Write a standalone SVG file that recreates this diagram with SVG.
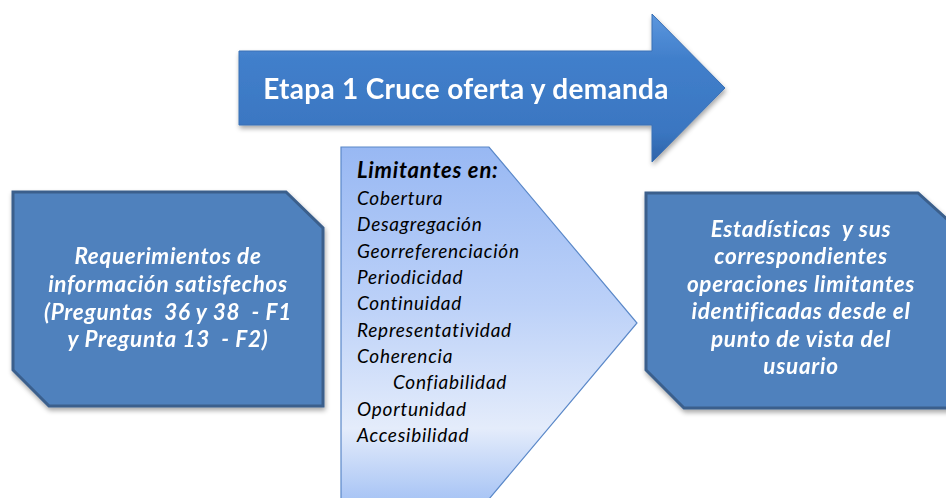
<svg xmlns="http://www.w3.org/2000/svg" width="946" height="498" viewBox="0 0 946 498">
<defs>
<linearGradient id="gArrow" x1="0" y1="0" x2="0" y2="1">
<stop offset="0" stop-color="#5c97de"/>
<stop offset="0.3" stop-color="#417fcb"/>
<stop offset="0.8" stop-color="#3a76c1"/>
<stop offset="1" stop-color="#2d63a8"/>
</linearGradient>
<linearGradient id="gChev" x1="0" y1="147" x2="0" y2="499" gradientUnits="userSpaceOnUse">
<stop offset="0" stop-color="#98b8f3"/>
<stop offset="0.45" stop-color="#bcd1f8"/>
<stop offset="0.8" stop-color="#e4ecfb"/>
<stop offset="1" stop-color="#a9c5f5"/>
</linearGradient>
<filter id="sh" x="-10%" y="-10%" width="125%" height="130%">
<feGaussianBlur in="SourceAlpha" stdDeviation="2.5"/>
<feOffset dx="1" dy="3" result="b"/>
<feComponentTransfer><feFuncA type="linear" slope="0.35"/></feComponentTransfer>
<feMerge><feMergeNode/><feMergeNode in="SourceGraphic"/></feMerge>
</filter>
</defs>
<style>
.box{fill:#4f81bd;stroke:#3a5f8c;stroke-width:3;}
.wt{font-family:Lato,"Open Sans","Liberation Sans",sans-serif;font-weight:bold;font-style:italic;fill:#ffffff;font-size:22.5px;letter-spacing:0.7px;text-anchor:middle;white-space:pre;}
.lt{font-family:Lato,"Open Sans","Liberation Sans",sans-serif;font-style:italic;fill:#000000;font-size:19px;letter-spacing:0.75px;}
</style>
<rect width="946" height="498" fill="#ffffff"/>
<g id="etapa-arrow" filter="url(#sh)">
<polygon points="239,51 652,51 652,14 725,88 652,162 652,125 239,125" style="fill:url(#gArrow)" stroke="#3a70b5" stroke-width="1"/>
<text x="466" y="99" font-family="Lato,'Open Sans','Liberation Sans',sans-serif" font-weight="bold" font-size="28" letter-spacing="0.3" fill="#ffffff" text-anchor="middle">Etapa 1 Cruce oferta y demanda</text>
</g>
<g id="requerimientos" filter="url(#sh)">
<polygon class="box" points="13,192 286,192 323,228 323,406 49,406 13,370"/>
<text class="wt" x="168" y="264">Requerimientos de</text>
<text class="wt" x="168" y="292">información satisfechos</text>
<text class="wt" x="168" y="320" xml:space="preserve">(Preguntas  36 y 38  - F1</text>
<text class="wt" x="168" y="347" xml:space="preserve">y Pregunta 13  - F2)</text>
</g>
<g id="limitantes">
<polygon points="341,147 489,147 637,323 489,499 341,499" fill="url(#gChev)" stroke="#5a88c8" stroke-width="1.2"/>
<text x="357" y="178" font-family="Lato,'Open Sans','Liberation Sans',sans-serif" font-weight="bold" font-style="italic" font-size="22" letter-spacing="0.8" fill="#000000">Limitantes en:</text>
<text class="lt" x="357" y="205">Cobertura</text>
<text class="lt" x="357" y="231">Desagregación</text>
<text class="lt" x="357" y="258">Georreferenciación</text>
<text class="lt" x="357" y="284">Periodicidad</text>
<text class="lt" x="357" y="310">Continuidad</text>
<text class="lt" x="357" y="337">Representatividad</text>
<text class="lt" x="357" y="363">Coherencia</text>
<text class="lt" x="393" y="389">Confiabilidad</text>
<text class="lt" x="357" y="416">Oportunidad</text>
<text class="lt" x="357" y="442">Accesibilidad</text>
</g>
<g id="estadisticas" filter="url(#sh)">
<polygon class="box" points="646,193 918,193 950,222 950,408 684,408 646,370"/>
<text class="wt" x="801" y="237" xml:space="preserve">Estadísticas  y sus</text>
<text class="wt" x="801" y="264">correspondientes</text>
<text class="wt" x="801" y="292">operaciones limitantes</text>
<text class="wt" x="801" y="319">identificadas desde el</text>
<text class="wt" x="801" y="347">punto de vista del</text>
<text class="wt" x="801" y="374">usuario</text>
</g>
<g id="connectors"/>
</svg>
